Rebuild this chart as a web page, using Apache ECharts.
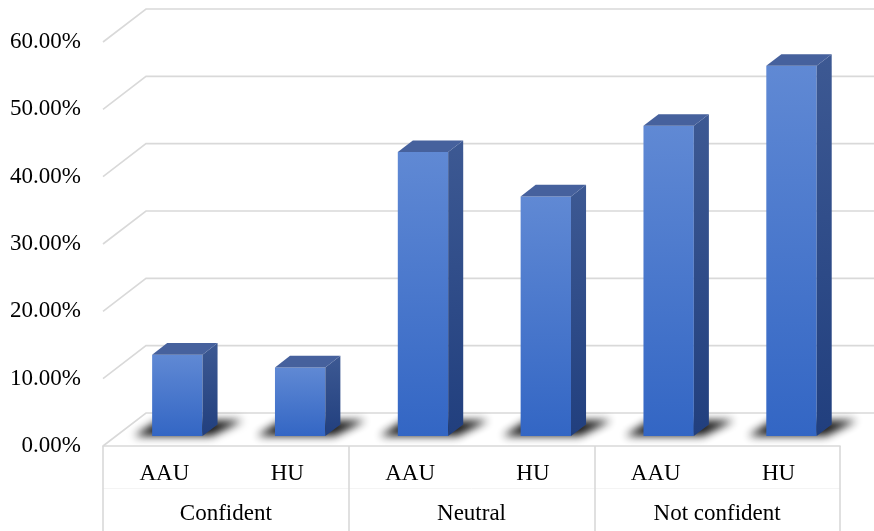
<!DOCTYPE html>
<html>
<head>
<meta charset="utf-8">
<script src="https://cdn.jsdelivr.net/npm/echarts@6/dist/echarts.min.js"></script>
<style>
  html, body { margin: 0; padding: 0; background: #ffffff; }
  #chart { width: 874px; height: 531px; }
</style>
</head>
<body>
<div id="chart"></div>
<script>
// Survey categories and institutions
const groups = ['Confident', 'Neutral', 'Not confident'];
const institutions = ['AAU', 'HU', 'AAU', 'HU', 'AAU', 'HU'];
// Share of respondents per bar (fraction)
const shares = [0.121, 0.102, 0.422, 0.356, 0.461, 0.550];
// Value-axis ticks
const yTicks = [0, 0.1, 0.2, 0.3, 0.4, 0.5, 0.6];

// 3D depth of the plot box (back wall offset in px) and bar placement within it
const DEPTH_X = 43, DEPTH_Y = -33;
const BAR_FRONT = 0.30, BAR_BACK = 0.65, BAR_WIDTH = 0.41;

const FONT = 'Liberation Serif';
const GRID_COLOR = '#d9d9d9';

const chart = echarts.init(document.getElementById('chart'), null, { renderer: 'canvas' });

// Back-wall gridline with its diagonal running along the left side wall
function gridWalls(params, api) {
  const cs = params.coordSys;
  const v = api.value(1);
  const y = api.coord([0, v])[1];
  return {
    type: 'polyline',
    shape: { points: [[cs.x, y], [cs.x + DEPTH_X, y + DEPTH_Y], [cs.x + cs.width + DEPTH_X, y + DEPTH_Y]] },
    style: { stroke: GRID_COLOR, lineWidth: 1.6, fill: null }
  };
}

function bar3d(params, api) {
  const i = api.value(0);
  const v = api.value(1);
  const base = api.coord([i, 0]);
  const top = api.coord([i, v]);
  const slot = api.size([1, 0])[0];
  const w = slot * BAR_WIDTH;
  const fx = BAR_FRONT * DEPTH_X, fy = BAR_FRONT * DEPTH_Y;
  const dx = (BAR_BACK - BAR_FRONT) * DEPTH_X, dy = (BAR_BACK - BAR_FRONT) * DEPTH_Y;
  const x0 = base[0] - w / 2 + fx, x1 = x0 + w;
  const yb = base[1] + fy, yt = top[1] + fy;

  // soft floor shadow: shape is drawn off-canvas and only its blurred shadow is shifted back
  const SHIFT = 3000;
  const spread = 18;
  const shadow = {
    type: 'polygon',
    shape: { points: [
      [x0 - spread - SHIFT, yb], [x1 + spread * 0.5 - SHIFT, yb],
      [x1 + dx + spread * 1.4 - SHIFT, yb + dy - 4], [x0 + dx - spread * 0.5 - SHIFT, yb + dy - 4]
    ] },
    style: {
      fill: 'rgba(0,0,0,1)',
      shadowColor: 'rgba(10,10,10,0.95)',
      shadowBlur: 8,
      shadowOffsetX: SHIFT,
      shadowOffsetY: 0
    }
  };

  const front = {
    type: 'polygon',
    shape: { points: [[x0, yt], [x1, yt], [x1, yb], [x0, yb]] },
    style: {
      fill: new echarts.graphic.LinearGradient(0, 0, 0, 1, [
        { offset: 0, color: '#6089d4' },
        { offset: 1, color: '#3366c4' }
      ])
    }
  };
  const side = {
    type: 'polygon',
    shape: { points: [[x1, yt], [x1 + dx, yt + dy], [x1 + dx, yb + dy], [x1, yb]] },
    style: {
      fill: new echarts.graphic.LinearGradient(0, 0, 0, 1, [
        { offset: 0, color: '#3d5993' },
        { offset: 1, color: '#213f7e' }
      ])
    }
  };
  const topFace = {
    type: 'polygon',
    shape: { points: [[x0, yt], [x0 + dx, yt + dy], [x1 + dx, yt + dy], [x1, yt]] },
    style: { fill: '#46619d' }
  };
  return { type: 'group', children: [shadow, front, side, topFace] };
}

chart.setOption({
  animation: false,
  backgroundColor: '#ffffff',
  grid: { left: 103, right: 34, top: 42, bottom: 85, containLabel: false },
  xAxis: [
    {
      type: 'category',
      data: institutions,
      position: 'bottom',
      axisLine: { show: true, lineStyle: { color: GRID_COLOR, width: 1.6 } },
      axisTick: { show: false },
      axisLabel: { margin: 16, fontFamily: FONT, fontSize: 23, color: '#000' }
    },
    {
      type: 'category',
      data: groups,
      position: 'bottom',
      axisLine: { show: false },
      axisTick: { show: true, inside: false, length: 86, lineStyle: { color: GRID_COLOR, width: 1.6 } },
      axisLabel: { margin: 56, fontFamily: FONT, fontSize: 23, color: '#000' }
    },
    {
      type: 'category',
      data: groups,
      position: 'bottom',
      offset: 42,
      axisLine: { show: true, lineStyle: { color: '#f4f4f4', width: 1 } },
      axisTick: { show: false },
      axisLabel: { show: false }
    }
  ],
  yAxis: {
    type: 'value',
    min: 0,
    max: 0.6,
    interval: 0.1,
    axisLine: { show: false },
    axisTick: { show: false },
    splitLine: { show: false },
    axisLabel: {
      margin: 22,
      fontFamily: FONT,
      fontSize: 23,
      color: '#000',
      formatter: v => (v * 100).toFixed(2) + '%'
    }
  },
  series: [
    {
      type: 'custom',
      xAxisIndex: 0,
      yAxisIndex: 0,
      clip: false,
      silent: true,
      z: 1,
      renderItem: gridWalls,
      data: yTicks.map(t => [0, t])
    },
    {
      type: 'custom',
      xAxisIndex: 0,
      yAxisIndex: 0,
      clip: false,
      z: 3,
      renderItem: bar3d,
      data: shares.map((s, i) => [i, s])
    }
  ]
});
</script>
</body>
</html>
